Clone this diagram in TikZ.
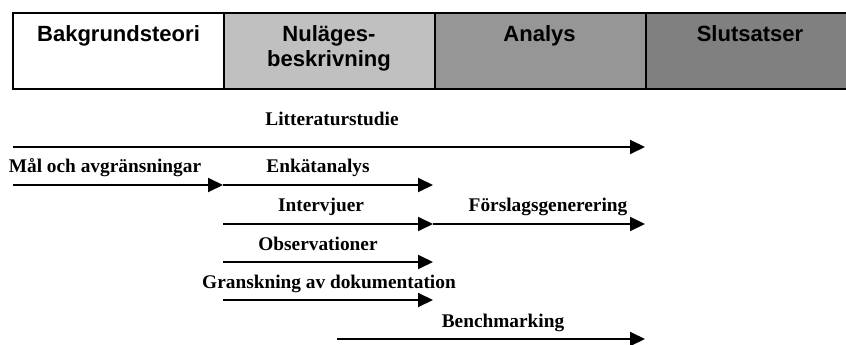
\documentclass[tikz,border=0pt]{standalone}
\usepackage{fontspec}
\setmainfont{Liberation Serif}
\setsansfont{Liberation Sans}
\usepackage{xcolor}
\usepackage{tikz}
\usetikzlibrary{arrows.meta}
\usetikzlibrary{positioning}

\definecolor{fasgra1}{HTML}{C0C0C0}
\definecolor{fasgra2}{HTML}{969696}
\definecolor{fasgra3}{HTML}{808080}

\tikzset{
  fas/.style={draw, line width=1.3pt, inner sep=0pt, minimum width=6.33cm, minimum height=2.28cm},
  fastext/.style={anchor=base, inner sep=0pt, font=\sffamily\bfseries\fontsize{18.8pt}{21pt}\selectfont},
  akttext/.style={anchor=base, inner sep=0pt, font=\rmfamily\bfseries\fontsize{16.5pt}{19pt}\selectfont},
  pil/.style={line width=1.7pt, -{Triangle[length=0.45cm, width=0.42cm]}}
}

\begin{document}
\begin{tikzpicture}[x=0.03cm, y=-0.03cm]
 \useasboundingbox (0,0) rectangle (846,345);

 % faserna
 \foreach \i/\name/\col in {0/bakgr/white,1/nulage/fasgra1,2/analys/fasgra2,3/slut/fasgra3}{
   \node[fas, fill=\col] (\name) at (118.5+\i*211,51) {};
 }
 \node[fastext] (bakgrt) at (118.5,42) {Bakgrundsteori};
 \node[fastext] (nulaget) at (329,42) {Nuläges-};
 \node[fastext] (nulaget2) at (329,67) {beskrivning};
 \node[fastext] (analyst) at (539.5,42) {Analys};
 \node[fastext] (slutt) at (750,42) {Slutsatser};

 % aktiviteterna
 \foreach \name/\from/\to/\y/\lx/\ly/\txt in {
    lit/13/645/147/332/126/Litteraturstudie,
    mal/13/223/185/105/173/Mål och avgränsningar,
    enkat/223/433/185/318/173/Enkätanalys,
    interv/223/433/224/321/212/Intervjuer,
    forslag/433/645/224/548/212/Förslagsgenerering,
    obs/223/433/262/318/250/Observationer,
    gransk/223/433/300/329/288/Granskning av dokumentation,
    bench/337/645/339/503/327/Benchmarking}{
   \coordinate (\name-s) at (\from,\y);
   \coordinate (\name-e) at (\to,\y);
   \node[akttext] (\name) at (\lx,\ly) {\txt};
   \draw[pil] (\name-s) -- (\name-e);
 }

\end{tikzpicture}
\end{document}
